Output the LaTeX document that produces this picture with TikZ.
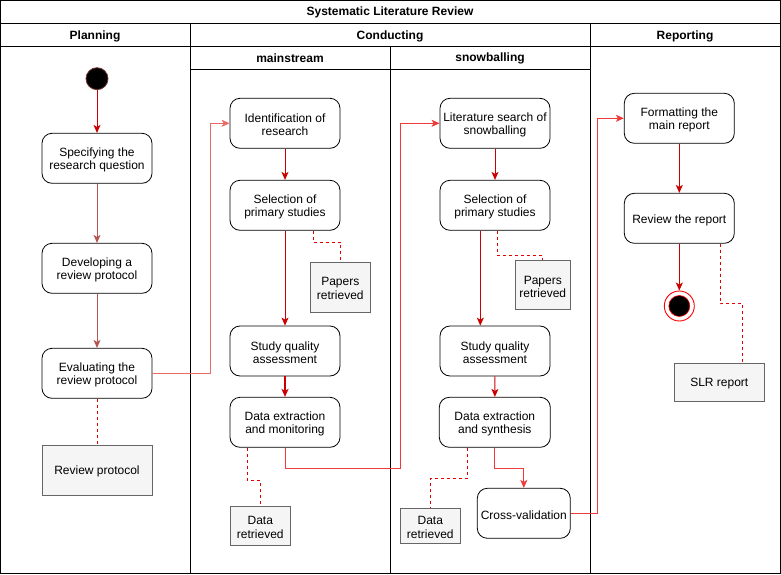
\documentclass[tikz,border=0pt]{standalone}
\usepackage{fontspec}
\setmainfont{Liberation Sans}
\usetikzlibrary{arrows.meta,calc}
\definecolor{rdark}{HTML}{CC0000}
\definecolor{rmute}{HTML}{B85450}
\definecolor{rlight}{HTML}{EA6B66}
\definecolor{rbright}{HTML}{F03A3A}
\definecolor{objfill}{HTML}{F5F5F5}
\definecolor{objline}{HTML}{666666}
\tikzset{
  act/.style={draw=black, rounded corners=10pt, fill=white, minimum width=110pt, minimum height=50pt, inner sep=0pt, line width=0.8pt},
  obj/.style={draw=objline, fill=objfill, inner sep=0pt, line width=0.9pt},
  txt/.style={align=center, inner sep=0pt},
  hdr/.style={font=\fontsize{12}{14}\selectfont\bfseries},
  lane/.style={draw=black, line width=1pt},
  tip/.style={-{Stealth[length=8pt,width=7pt,inset=2pt]}},
  flow/.style={tip, line width=0.9pt},
  note/.style={dashed, dash pattern=on 3pt off 3pt, draw=red!90!black, line width=0.9pt}
}
% box with its text lowered a little, as in the reference
\newcommand\mybox[4]{\node[#1] (#2) at (#3) {};
  \node[txt] (#2-t) at ([yshift=-1.6pt]#2.center) {#4};}
\begin{document}
\begin{tikzpicture}[x=1pt,y=-1pt,font=\fontsize{12}{13.6}\selectfont]
\useasboundingbox (0,0) rectangle (781,575);
% swimlanes
\draw[lane] (0.5,0.5) rectangle (780,573.5);
\draw[lane] (0.5,23.3) -- (780,23.3);
\draw[lane] (0.5,46.3) -- (780,46.3);
\draw[lane] (190.3,69.3) -- (590.3,69.3);
\draw[lane] (190.3,23.3) -- (190.3,573.5);
\draw[lane] (590.3,23.3) -- (590.3,573.5);
\draw[lane] (390.3,46.3) -- (390.3,573.5);
\node[hdr] (title) at (390,12.8) {Systematic Literature Review};
\node[hdr] (hplan) at (95,36.2) {Planning};
\node[hdr] (hcond) at (390,36.2) {Conducting};
\node[hdr] (hrep) at (685,36.2) {Reporting};
\node[hdr] (hmain) at (290,58.3) {mainstream};
\node[hdr] (hsnow) at (490,58.3) {snowballing};
% planning
\node[circle, fill=black, draw=rmute!60!black, line width=0.8pt, minimum size=22pt, inner sep=0pt] (start) at (97,78.7) {};
\mybox{act}{spec}{97,158.3}{Specifying the\\research question}
\mybox{act}{dev}{97,268.3}{Developing a\\review protocol}
\mybox{act}{eval}{97,373.3}{Evaluating the\\review protocol}
\mybox{obj, minimum width=110pt, minimum height=50pt}{revprot}{97,470}{Review protocol}
% mainstream
\mybox{act}{ident}{285,123.3}{Identification of\\research}
\mybox{act}{selM}{285,205.3}{Selection of\\primary studies}
\mybox{obj, minimum width=60pt, minimum height=50pt}{papM}{340.3,287}{Papers\\retrieved}
\mybox{act}{sqaM}{285,351}{Study quality\\assessment}
\mybox{act}{dem}{285,422.3}{Data extraction\\and monitoring}
\mybox{obj, minimum width=60pt, minimum height=39pt}{drM}{260.3,525.8}{Data\\retrieved}
% snowballing
\mybox{act}{lit}{495,123.3}{Literature search of\\snowballing}
\mybox{act}{selS}{495,205.3}{Selection of\\primary studies}
\mybox{obj, minimum width=55pt, minimum height=49pt}{papS}{542.8,285.3}{Papers\\retrieved}
\mybox{act}{sqaS}{495,351}{Study quality\\assessment}
\mybox{act, minimum width=111pt}{des}{494.8,422.3}{Data extraction\\and synthesis}
\mybox{obj, minimum width=60pt, minimum height=35pt}{drS}{430.3,525.8}{Data\\retrieved}
\mybox{act, minimum width=93pt}{cv}{523.8,513.3}{Cross-validation}
% reporting
\mybox{act}{fmt}{679.3,118.3}{Formatting the\\main report}
\mybox{act}{rev}{679.3,218.3}{Review the report}
\node[circle, fill=white, draw=red, line width=0.9pt, minimum size=30pt, inner sep=0pt] (end) at (679.3,306) {};
\node[circle, fill=black, draw=red, line width=0.6pt, minimum size=21pt, inner sep=0pt] (endin) at (end.center) {};
\mybox{obj, minimum width=90pt, minimum height=38pt}{slr}{719.3,382}{SLR report}
% flows
\draw[flow, rdark] (start) -- (spec);
\draw[flow, rmute] (spec) -- (dev);
\draw[flow, rmute] (dev) -- (eval);
\draw[flow, rlight] (eval.east) -- ++(58,0) |- (ident.west);
\draw[flow, rdark] (ident) -- (selM);
\draw[flow, rdark] (selM) -- (sqaM);
\draw[flow, rdark, line width=1.6pt] (sqaM) -- (dem);
\draw[flow, rbright] (dem.south) -- ++(0,21) -| (400.7,300) |- (lit.west);
\draw[flow, rdark] (lit) -- (selS);
\draw[flow, rdark] ([xshift=-14.7pt]selS.south) -- ([xshift=-14.7pt]sqaS.north);
\draw[flow, rdark] (sqaS) -- (des);
\draw[flow, rbright] (des.south) -- ++(0,20.5) -| (cv.north);
\draw[flow, rbright] (cv.east) -- ++(27,0) |- (fmt.west);
\draw[flow, rdark] (fmt) -- (rev);
\draw[flow, rdark] (rev) -- (end);
% dashed associations
\draw[note] (eval) -- (revprot);
\draw[note] ([xshift=28pt]selM.south) -- ++(0,11.4) -| (papM.north);
\draw[note] ([xshift=-37.7pt]dem.south) -- ++(0,32.7) -| (drM.north);
\draw[note] ([xshift=2.7pt]selS.south) -- ++(0,24.7) -| (papS.north);
\draw[note] ([xshift=-27.5pt]des.south) -- ++(0,30.4) -| (drS.north);
\draw[note] ([xshift=40.7pt]rev.south) -- ++(0,60) -| ([xshift=23pt]slr.north);
\end{tikzpicture}
\end{document}
